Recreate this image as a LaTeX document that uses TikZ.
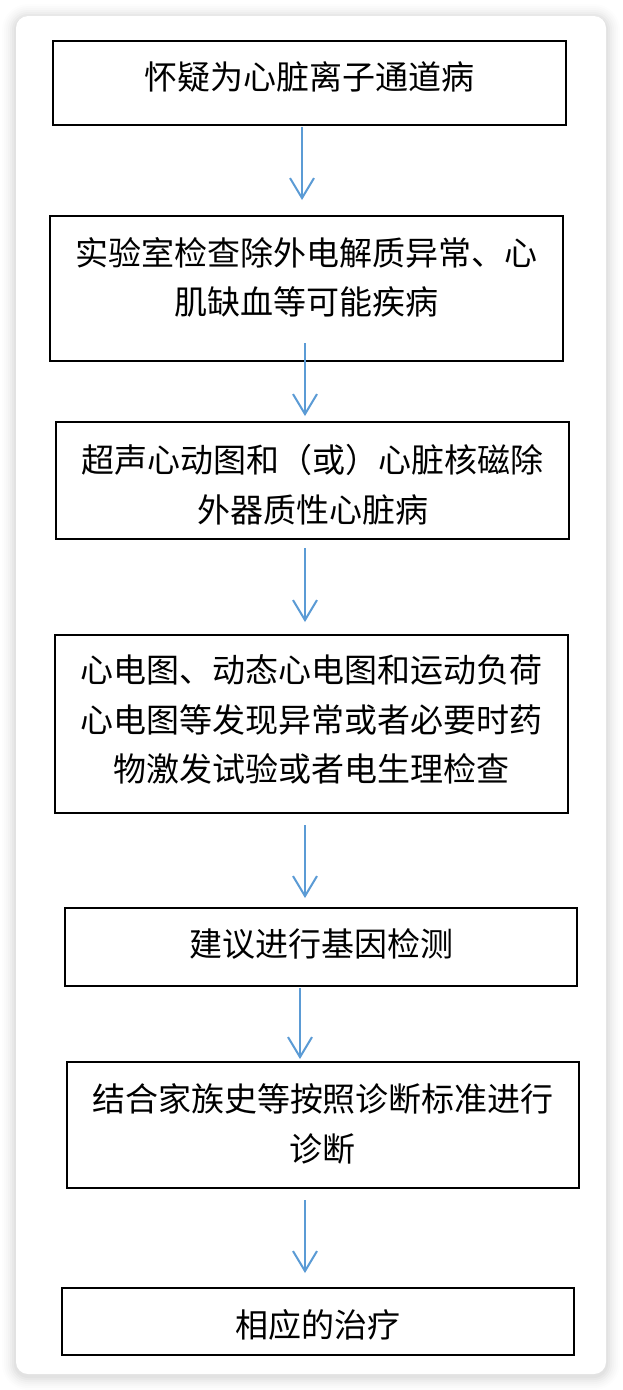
\documentclass[tikz,border=0pt]{standalone}
\usepackage{fontspec}
\newfontfamily\cjk{Noto Sans CJK SC}
\usetikzlibrary{arrows.meta}
\definecolor{arrowblue}{RGB}{91,155,213}
\tikzset{
  flowbox/.style={draw=black, line width=2.5pt, minimum width=513pt, inner sep=0pt, fill=white},
  flowtext/.style={font=\cjk\fontsize{33pt}{49.5pt}\selectfont, align=center, inner sep=0pt, text=black},
  arr/.style={draw=arrowblue, line width=2pt, -{Straight Barb[length=20pt,width=24pt,line width=2pt]}},
}
\begin{document}
\begin{tikzpicture}[x=1pt,y=-1pt]
\useasboundingbox (0,0) rectangle (622,1390);
\fill[white] (0,0) rectangle (622,1390);
% card shadow
\foreach \d/\o in {14/0.008,12/0.010,10/0.013,8/0.016,6/0.019,4/0.022,2/0.025}{
  \fill[black, opacity=\o, rounded corners={12pt+\d pt}] (16-\d,16-\d+2) rectangle (606+\d,1374+\d+2);
}
\fill[white, rounded corners=12pt] (16,16) rectangle (606,1374);

% boxes
\node[flowbox, minimum height=84pt]  (b1) at (309.5,83) {};
\node[flowbox, minimum height=145pt] (b2) at (306.5,288.5) {};
\node[flowbox, minimum height=117pt] (b3) at (312.5,480.5) {};
\node[flowbox, minimum height=178pt] (b4) at (311.5,724) {};
\node[flowbox, minimum width=512pt, minimum height=78pt]  (b5) at (321,947) {};
\node[flowbox, minimum width=512pt, minimum height=126pt] (b6) at (323,1125) {};
\node[flowbox, minimum width=512pt, minimum height=67pt]  (b7) at (318,1321.5) {};

% texts
\node[flowtext] (t1) at (309.5,77) {怀疑为心脏离子通道病};
\node[flowtext] (t2) at (306.5,277.5) {实验室检查除外电解质异常、心\\肌缺血等可能疾病};
\node[flowtext] (t3) at (312.5,485) {超声心动图和（或）心脏核磁除\\外器质性心脏病};
\node[flowtext] (t4) at (311.5,719.5) {心电图、动态心电图和运动负荷\\心电图等发现异常或者必要时药\\物激发试验或者电生理检查};
\node[flowtext] (t5) at (321,944) {建议进行基因检测};
\node[flowtext] (t6) at (323,1124) {结合家族史等按照诊断标准进行\\诊断};
\node[flowtext] (t7) at (318,1325) {相应的治疗};

% arrow ends
\coordinate (a1s) at (302,127);  \coordinate (a1e) at (302,200);
\coordinate (a2s) at (305,343);  \coordinate (a2e) at (305,416);
\coordinate (a3s) at (305,548);  \coordinate (a3e) at (305,622);
\coordinate (a4s) at (305,825);  \coordinate (a4e) at (305,898);
\coordinate (a5s) at (300,988);  \coordinate (a5e) at (300,1059);
\coordinate (a6s) at (305,1200); \coordinate (a6e) at (305,1273);
\draw[arr] (a1s) -- (a1e);
\draw[arr] (a2s) -- (a2e);
\draw[arr] (a3s) -- (a3e);
\draw[arr] (a4s) -- (a4e);
\draw[arr] (a5s) -- (a5e);
\draw[arr] (a6s) -- (a6e);
\end{tikzpicture}
\end{document}
